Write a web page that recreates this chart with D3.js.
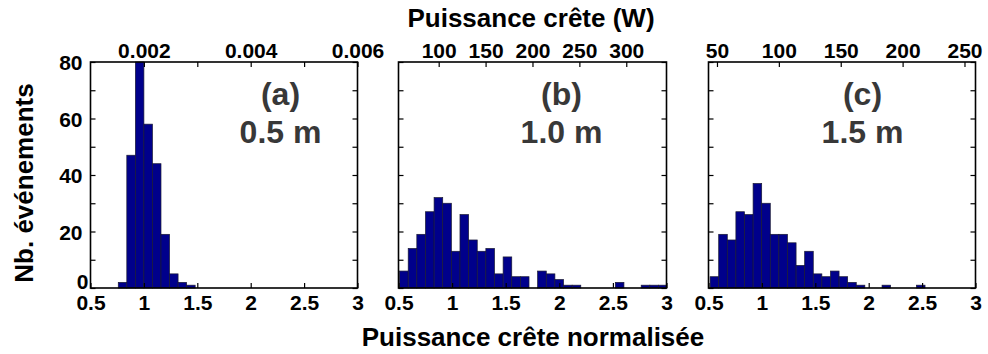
<!DOCTYPE html>
<html>
<head>
<meta charset="utf-8">
<script src="https://cdn.jsdelivr.net/npm/d3@7"></script>
<style>
  body { margin: 0; background: #fff; }
  svg { display: block; }
  text { font-family: "Liberation Sans", Arial, sans-serif; font-weight: bold; }
</style>
</head>
<body>
<svg id="chart" width="988" height="354"></svg>
<script>
// ---------- DATA ----------
const panelLetters = ["(a)", "(b)", "(c)"];
const panelDistances = ["0.5 m", "1.0 m", "1.5 m"];

// histogram bins (normalised peak power): first bin start, bin width, counts
const binStartA = 0.76;
const binWidthA = 0.08;
const countsA = [2, 47, 80, 58, 44, 19, 5, 2, 1];

const binStartB = 0.51;
const binWidthB = 0.0805;
const countsB = [6, 14, 19, 27, 32, 30, 13, 26, 17, 13, 14, 5, 11, 4, 4, 0, 6, 5, 3, 1, 1, 0, 0, 0, 0, 2, 0, 0, 1, 1, 1];

const binStartC = 0.515;
const binWidthC = 0.0805;
const countsC = [4, 19, 17, 27, 26, 37, 30, 19, 19, 16, 8, 13, 5, 4, 6, 4, 2, 1, 0, 0, 1, 0, 0, 0, 1];

// bottom axis (normalised) and y axis
const xDomain = [0.5, 3];
const xTicks = [0.5, 1, 1.5, 2, 2.5, 3];
const yDomain = [0, 80];
const yTicks = [0, 10, 20, 30, 40, 50, 60, 70, 80];
const yTickLabels = [0, 20, 40, 60, 80];

// top axes: peak power (W) = normalised * mean peak power
const meanPowerA = 0.002;
const meanPowerB = 114.3;
const meanPowerC = 86.3;
const topTicksA = [0.002, 0.003, 0.004, 0.005, 0.006];
const topLabelsA = [0.002, 0.004, 0.006];
const topTicksB = [100, 150, 200, 250, 300];
const topTicksC = [50, 100, 150, 200, 250];

const topTitle = "Puissance crête (W)";
const bottomTitle = "Puissance crête normalisée";
const yTitle = "Nb. événements";

// ---------- LAYOUT ----------
const svg = d3.select("#chart");
const plotTop = 62, plotBottom = 288;
const panels = [
  { left: 90.5, right: 357.5, start: binStartA, width: binWidthA, counts: countsA,
    mean: meanPowerA, topTicks: topTicksA, topLabels: topLabelsA, fmt: d3.format(".3f"),
    labelX: 190, yLabels: true },
  { left: 398.5, right: 666.5, start: binStartB, width: binWidthB, counts: countsB,
    mean: meanPowerB, topTicks: topTicksB, topLabels: topTicksB, fmt: d3.format("d"),
    labelX: 163, yLabels: false },
  { left: 708.5, right: 975.5, start: binStartC, width: binWidthC, counts: countsC,
    mean: meanPowerC, topTicks: topTicksC, topLabels: topTicksC, fmt: d3.format("d"),
    labelX: 154, yLabels: false }
];

const y = d3.scaleLinear().domain(yDomain).range([plotBottom, plotTop]);

panels.forEach((p, i) => {
  const x = d3.scaleLinear().domain(xDomain).range([p.left, p.right]);
  const xTop = d3.scaleLinear().domain(xDomain.map(v => v * p.mean)).range([p.left, p.right]);
  const g = svg.append("g");

  const bins = p.counts.map((c, k) => {
    const x0 = Math.max(xDomain[0], p.start + k * p.width);
    const x1 = Math.min(xDomain[1], p.start + (k + 1) * p.width);
    return { x0, x1, c };
  }).filter(b => b.c > 0 && b.x1 > b.x0);

  g.selectAll("rect.bar").data(bins).enter().append("rect")
    .attr("class", "bar")
    .attr("x", d => x(d.x0))
    .attr("width", d => x(d.x1) - x(d.x0))
    .attr("y", d => y(Math.min(d.c, yDomain[1])))
    .attr("height", d => y(0) - y(Math.min(d.c, yDomain[1])))
    .attr("fill", "#00008b")
    .attr("stroke", "#1a1a33")
    .attr("stroke-width", 0.7);

  const gb = g.append("g").attr("transform", `translate(0,${plotBottom})`)
    .call(d3.axisBottom(x).tickValues(xTicks).tickFormat(d3.format("")).tickSizeInner(-5).tickSizeOuter(0).tickPadding(7));
  const gt = g.append("g").attr("transform", `translate(0,${plotTop})`)
    .call(d3.axisTop(xTop).tickValues(p.topTicks)
      .tickFormat(d => p.topLabels.some(v => Math.abs(v - d) < 1e-9) ? p.fmt(d) : "")
      .tickSizeInner(-5).tickSizeOuter(0).tickPadding(4));
  const gl = g.append("g").attr("transform", `translate(${p.left},0)`)
    .call(d3.axisLeft(y).tickValues(yTicks)
      .tickFormat(d => p.yLabels && yTickLabels.includes(d) ? d : "")
      .tickSizeInner(-5).tickSizeOuter(0).tickPadding(8));
  const gr = g.append("g").attr("transform", `translate(${p.right},0)`)
    .call(d3.axisRight(y).tickValues(yTicks).tickFormat("").tickSizeInner(-5).tickSizeOuter(0));

  [gb, gt, gl, gr].forEach(a => {
    a.select(".domain").remove();
    a.selectAll("line").attr("stroke", "#000").attr("stroke-width", 1.2);
    a.selectAll("text").attr("font-size", 21).attr("fill", "#000")
      .style("font-family", '"Liberation Sans", Arial, sans-serif').style("font-weight", "bold");
  });
  gl.selectAll("text").attr("dy", "0.38em");
  gl.selectAll(".tick").filter(d => d === 0).select("text").attr("dx", 6).attr("dy", "0.0em");

  g.append("rect")
    .attr("x", p.left).attr("y", plotTop)
    .attr("width", p.right - p.left).attr("height", plotBottom - plotTop)
    .attr("fill", "none").attr("stroke", "#000").attr("stroke-width", 1.6);

  g.append("text").attr("x", p.left + p.labelX).attr("y", 105)
    .attr("text-anchor", "middle").attr("font-size", 32).attr("fill", "#383838")
    .text(panelLetters[i]);
  g.append("text").attr("x", p.left + p.labelX).attr("y", 143)
    .attr("text-anchor", "middle").attr("font-size", 32).attr("fill", "#383838")
    .text(panelDistances[i]);
});

svg.append("text").attr("x", 531).attr("y", 27).attr("text-anchor", "middle")
  .attr("font-size", 26).attr("fill", "#000").text(topTitle);
svg.append("text").attr("x", 533).attr("y", 346).attr("text-anchor", "middle")
  .attr("font-size", 26).attr("fill", "#000").text(bottomTitle);
svg.append("text").attr("transform", "translate(33,183) rotate(-90)").attr("text-anchor", "middle")
  .attr("font-size", 26).attr("fill", "#000").text(yTitle);
</script>
</body>
</html>
